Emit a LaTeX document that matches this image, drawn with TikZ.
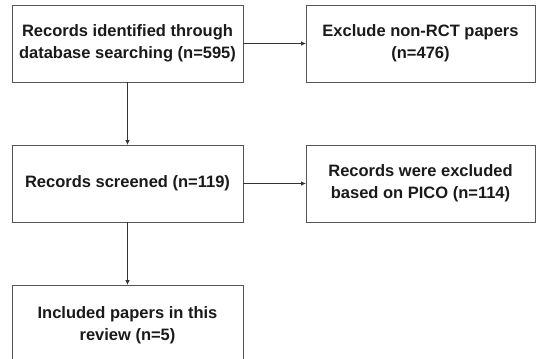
\documentclass[tikz,border=0pt]{standalone}
\usepackage{fontspec}
\setmainfont{Liberation Sans}
\usetikzlibrary{arrows.meta}
\definecolor{boxline}{HTML}{555555}
\definecolor{txt}{HTML}{1A1A1A}
\tikzset{
  x=1pt,y=-1pt,
  box/.style={draw=boxline,line width=1pt,inner sep=0pt,outer sep=0pt,
    font=\bfseries\fontsize{16.5}{22}\selectfont,text=txt,align=center,
    minimum height=77pt},
  leftbox/.style={box,minimum width=231pt},
  rightbox/.style={box,minimum width=229pt},
  conn/.style={draw=black!80,line width=0.8pt,-{Latex[length=5pt,width=4.5pt]}}
}
\begin{document}
\begin{tikzpicture}
\useasboundingbox (0,0) rectangle (536,359);
\fill[white] (0,0) rectangle (536,359);
\node[leftbox] (a) at (127.5,43.5) {Records identified through\\database searching (n=595)};
\node[rightbox] (b) at (420.5,43.5) {Exclude non-RCT papers\\(n=476)};
\node[leftbox] (c) at (127.5,183.5) {Records screened (n=119)};
\node[rightbox] (d) at (420.5,183.5) {Records were excluded\\based on PICO (n=114)};
\node[leftbox,minimum height=80pt] (e) at (127.5,325) {Included papers in this\\review (n=5)};
\draw[conn] (a) -- (c);
\draw[conn] (a) -- (b);
\draw[conn] (c) -- (e);
\draw[conn] (c) -- (d);
\end{tikzpicture}
\end{document}
